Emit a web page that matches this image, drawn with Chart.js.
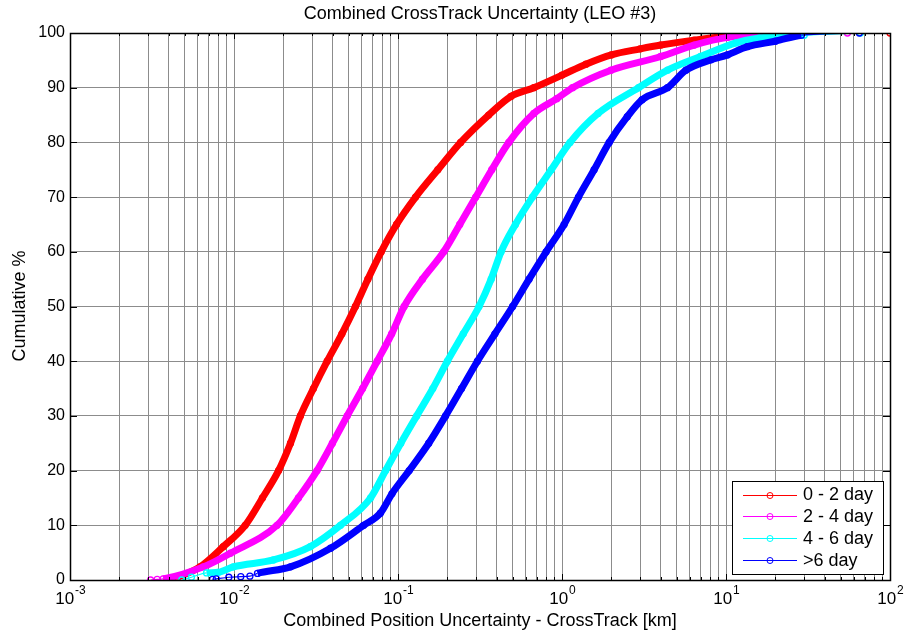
<!DOCTYPE html>
<html>
<head>
<meta charset="utf-8">
<script src="https://cdn.jsdelivr.net/npm/chart.js@4.4.1/dist/chart.umd.min.js"></script>
<style>
  html, body { margin: 0; padding: 0; background: #fff; }
  #wrap { width: 907px; height: 633px; }
</style>
</head>
<body>
<div id="wrap"><canvas id="cdf"></canvas></div>
<script>
// Cumulative % vs combined cross-track uncertainty [km]
const seriesNames = ['0 - 2 day', '2 - 4 day', '4 - 6 day', '>6 day'];
const seriesColors = ['#ff0000', '#ff00ff', '#00ffff', '#0000ff'];

const red_x = [0.0039, 0.0045, 0.0062, 0.0086, 0.0117, 0.0149, 0.0187, 0.0221, 0.0254, 0.0305, 0.037, 0.0455, 0.055, 0.0655, 0.079, 0.098, 0.128, 0.175, 0.241, 0.357, 0.488, 0.673, 1.0, 1.4, 2.0, 3.0, 4.0, 6.4, 10.2, 20, 100];
const red_y = [0, 0.5, 2.4, 6.1, 10, 15, 20, 25, 30, 35, 40, 45, 50, 55, 60, 65, 70, 75, 80, 85, 88.4, 90, 92.3, 94.3, 96.0, 97.1, 97.8, 98.7, 99.4, 99.8, 100];

const mag_x = [0.0031, 0.0034, 0.0037, 0.0065, 0.0095, 0.0183, 0.0247, 0.0321, 0.0398, 0.049, 0.0608, 0.0747, 0.0915, 0.109, 0.141, 0.19, 0.238, 0.298, 0.373, 0.474, 0.674, 0.93, 1.16, 1.99, 4.0, 6.4, 10.2, 20, 55];
const mag_y = [0, 0.1, 0.2, 2.4, 4.9, 10, 15, 20, 25, 30, 35, 40, 45, 50, 55, 60, 65, 70, 75, 80, 85.3, 88, 90, 93.2, 95.7, 97.8, 99.2, 99.7, 100];

const cyan_x = [0.0048, 0.0055, 0.0068, 0.008, 0.0099, 0.0174, 0.0292, 0.0446, 0.068, 0.084, 0.104, 0.13, 0.163, 0.20, 0.25, 0.312, 0.37, 0.425, 0.52, 0.66, 0.86, 1.12, 1.66, 2.93, 4.4, 7.0, 11.5, 16, 30, 66];
const cyan_y = [0, 0.5, 1.3, 1.4, 2.4, 3.66, 6.1, 10, 15, 20, 25, 30, 35, 40, 45, 50, 55, 60, 65, 70, 75, 80, 85.3, 90, 93.2, 95.7, 98.2, 99.1, 99.6, 100];

const blue_x = [0.0074, 0.0078, 0.0093, 0.011, 0.0125, 0.0139, 0.0221, 0.0388, 0.0617, 0.078, 0.092, 0.117, 0.154, 0.195, 0.244, 0.305, 0.39, 0.50, 0.63, 0.80, 1.03, 1.26, 1.57, 1.94, 2.5, 3.08, 4.4, 5.7, 8.1, 10.2, 13.5, 20, 28.8, 65];
const blue_y = [0.1, 0.2, 0.5, 0.6, 0.7, 1.2, 2.4, 5.8, 10, 12.2, 15.8, 20, 25, 30, 35, 40, 45, 50, 55, 60, 65, 70, 75, 80, 84.7, 87.8, 90, 93.2, 95.1, 96, 97.5, 98.5, 99.6, 100];

const decades = [0.001, 0.01, 0.1, 1, 10, 100];
const decadeExp = ['-3', '-2', '-1', '0', '1', '2'];
const mantissas = [1, 2, 3, 4, 5, 6, 7, 8, 9];

const titleText = 'Combined CrossTrack Uncertainty (LEO #3)';
const xTitle = 'Combined Position Uncertainty - CrossTrack [km]';
const yTitle = 'Cumulative %';

const FONT = '"Liberation Sans", Arial, sans-serif';

const xs = [red_x, mag_x, cyan_x, blue_x];
const ys = [red_y, mag_y, cyan_y, blue_y];

const xTicks = [];
decades.forEach((d, i) => {
  if (i === decades.length - 1) { xTicks.push(d); return; }
  mantissas.forEach(m => xTicks.push(+(m * d).toPrecision(3)));
});

// sparse tails (near 0 % and near 100 %) are only thin lines between markers
const segWidth = ctx => {
  const a = ctx.p0.parsed.y, b = ctx.p1.parsed.y;
  if (b <= 1.3 || (a >= 99.5 && b >= 99.5)) return 1.2;
  return 7;
};

const datasets = seriesNames.map((name, i) => ({
  label: name,
  data: xs[i].map((x, k) => ({ x: x, y: ys[i][k] })),
  borderColor: seriesColors[i],
  backgroundColor: 'rgba(0,0,0,0)',
  borderWidth: 7,
  segment: { borderWidth: segWidth },
  pointRadius: 3,
  pointBorderWidth: 1.3,
  pointBackgroundColor: 'rgba(0,0,0,0)',
  pointBorderColor: seriesColors[i],
  cubicInterpolationMode: 'monotone',
  order: 4 - i
}));

const decor = {
  id: 'decor',
  afterDraw(chart) {
    const { ctx, chartArea: a, scales: { x, y } } = chart;
    ctx.save();
    ctx.strokeStyle = '#000';
    ctx.lineWidth = 1;

    // inward tick marks on all four sides
    ctx.beginPath();
    xTicks.forEach(v => {
      const px = Math.round(x.getPixelForValue(v)) + 0.5;
      const len = decades.includes(v) ? 6 : 3;
      ctx.moveTo(px, a.bottom); ctx.lineTo(px, a.bottom - len);
      ctx.moveTo(px, a.top); ctx.lineTo(px, a.top + len);
    });
    for (let v = 0; v <= 100; v += 10) {
      const py = Math.round(y.getPixelForValue(v)) + 0.5;
      ctx.moveTo(a.left, py); ctx.lineTo(a.left + 7, py);
      ctx.moveTo(a.right, py); ctx.lineTo(a.right - 7, py);
    }
    ctx.stroke();

    // axes box
    ctx.lineWidth = 1.5;
    ctx.strokeRect(Math.round(a.left) + 0.5, Math.round(a.top) + 0.5, Math.round(a.width), Math.round(a.height));

    // x tick labels 10^n
    ctx.fillStyle = '#000';
    ctx.textBaseline = 'alphabetic';
    decades.forEach((d, i) => {
      const px = x.getPixelForValue(d);
      ctx.font = '17px ' + FONT;
      const w1 = ctx.measureText('10').width;
      ctx.font = '12px ' + FONT;
      const w2 = ctx.measureText(decadeExp[i]).width;
      const left = px - (w1 + w2) / 2;
      ctx.font = '17px ' + FONT;
      ctx.textAlign = 'left';
      ctx.fillText('10', left, 604);
      ctx.font = '12px ' + FONT;
      ctx.fillText(decadeExp[i], left + w1 + 1, 594);
    });

    // titles
    ctx.textAlign = 'center';
    ctx.font = '18px ' + FONT;
    ctx.fillText(titleText, (a.left + a.right) / 2, 19);
    ctx.fillText(xTitle, (a.left + a.right) / 2, 626);
    ctx.save();
    ctx.translate(25, 306);
    ctx.rotate(-Math.PI / 2);
    ctx.fillText(yTitle, 0, 0);
    ctx.restore();

    // legend box
    const bx = 732, by = 481, bw = 151, bh = 93;
    ctx.fillStyle = '#fff';
    ctx.fillRect(bx, by, bw, bh);
    ctx.lineWidth = 1;
    ctx.strokeStyle = '#000';
    ctx.strokeRect(bx + 0.5, by + 0.5, bw, bh);
    seriesNames.forEach((name, i) => {
      const ry = by + 13.5 + i * 21.9;
      ctx.strokeStyle = seriesColors[i];
      ctx.lineWidth = 1;
      ctx.beginPath();
      ctx.moveTo(743, Math.round(ry) + 0.5); ctx.lineTo(797, Math.round(ry) + 0.5);
      ctx.stroke();
      ctx.beginPath();
      ctx.arc(770, Math.round(ry) + 0.5, 3, 0, Math.PI * 2);
      ctx.stroke();
      ctx.fillStyle = '#000';
      ctx.textAlign = 'left';
      ctx.textBaseline = 'middle';
      ctx.font = '18px ' + FONT;
      ctx.fillText(name, 803, ry + 1);
    });
    ctx.restore();
  }
};

new Chart(document.getElementById('cdf'), {
  type: 'line',
  data: { datasets: datasets },
  options: {
    responsive: true,
    maintainAspectRatio: false,
    animation: false,
    layout: { padding: { left: 0, top: 33, right: 17, bottom: 0 } },
    plugins: { legend: { display: false }, tooltip: { enabled: false }, title: { display: false } },
    scales: {
      x: {
        type: 'logarithmic',
        min: 0.001,
        max: 100,
        afterBuildTicks: s => { s.ticks = xTicks.map(v => ({ value: v })); },
        afterFit: s => { s.height = 53; },
        ticks: { display: false, autoSkip: false },
        grid: { color: '#8c8c8c', lineWidth: 1, drawTicks: false },
        border: { display: false }
      },
      y: {
        min: 0,
        max: 100,
        afterFit: s => { s.width = 70; },
        ticks: { stepSize: 10, color: '#000', padding: 5, font: { size: 16, family: FONT } },
        grid: { color: '#8c8c8c', lineWidth: 1, drawTicks: false },
        border: { display: false }
      }
    }
  },
  plugins: [decor]
});
</script>
</body>
</html>
